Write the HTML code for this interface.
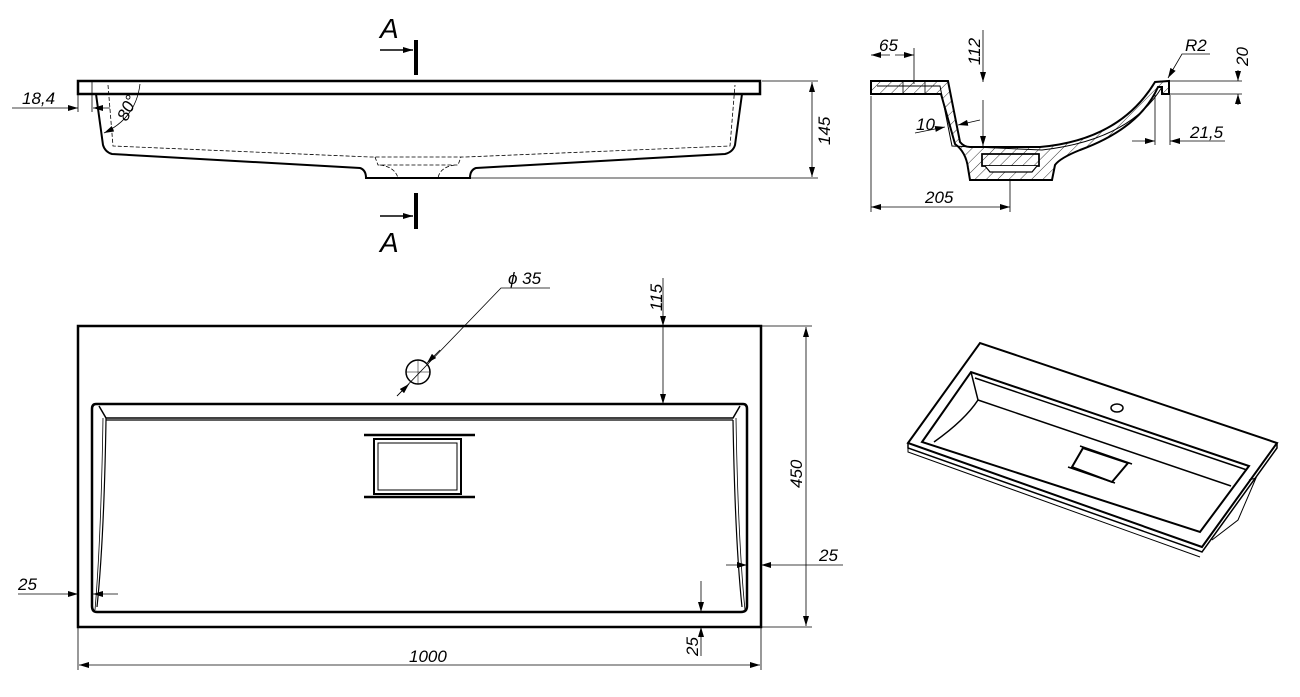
<!DOCTYPE html>
<html><head><meta charset="utf-8"><style>
html,body{margin:0;padding:0;background:#fff;}
svg{display:block}
text{font-family:"Liberation Sans",sans-serif;font-style:italic;fill:#000}
</style></head><body>
<svg width="1300" height="697" viewBox="0 0 1300 697" xmlns="http://www.w3.org/2000/svg">
<defs>
<marker id="a" viewBox="0 0 10 6" refX="10" refY="3" markerWidth="10" markerHeight="6" orient="auto-start-reverse" markerUnits="userSpaceOnUse"><path d="M0,0 L10,3 L0,6 z" fill="#000"/></marker>
<pattern id="h" width="8" height="8" patternUnits="userSpaceOnUse" patternTransform="rotate(45)"><line x1="0" y1="0" x2="0" y2="8" stroke="#000" stroke-width="0.8"/></pattern>
</defs>
<g fill="none" stroke="#000">
<!-- FRONT VIEW -->
<rect x="78" y="81" width="682" height="13" stroke-width="2.5"/>
<path d="M96,94 L103,145 Q105,152 112,154 L360,168 Q366,170 366,178 L470,178 Q470,170 476,168 L725,154 Q733,152 735,145 L742,94" stroke-width="2"/>
<path d="M108,85 L113,146 L370,157 L465,157 L730,146 L735,85" stroke-width="0.8" stroke-dasharray="4,2"/>
<path d="M375,157 L378,165 L458,165 L461,157 M380,165 Q395,167 398,178 M455,165 Q440,167 438,178" stroke-width="0.8" stroke-dasharray="4,2"/>
<path d="M92,80 L92,112 M78,94 L78,112" stroke-width="0.8"/>
<line x1="12" y1="108" x2="78" y2="108" stroke-width="0.8" marker-end="url(#a)"/>
<line x1="110" y1="108" x2="93" y2="108" stroke-width="0.8" marker-end="url(#a)"/>
<path d="M140,84 Q136,118 104,133" stroke-width="0.8" marker-end="url(#a)"/>
<line x1="416" y1="40" x2="416" y2="75" stroke-width="4"/>
<line x1="416" y1="193" x2="416" y2="229" stroke-width="4"/>
<line x1="380" y1="50" x2="413" y2="50" stroke-width="1.5" marker-end="url(#a)"/>
<line x1="380" y1="216" x2="413" y2="216" stroke-width="1.5" marker-end="url(#a)"/>
<path d="M762,81 L818,81 M470,178 L818,178" stroke-width="0.8"/>
<line x1="812" y1="130" x2="812" y2="82" stroke-width="0.8" marker-end="url(#a)"/>
<line x1="812" y1="130" x2="812" y2="177" stroke-width="0.8" marker-end="url(#a)"/>

<!-- SECTION VIEW -->
<path d="M871,81 L948,81 L960,142 Q964,147 970,147 L1040,147 Q1120,140 1155,82 L1169,81 L1169,94 L1162,94 L1162,87 L1158,87 Q1140,128 1080,150 Q1060,158 1055,165 L1052,180 L970,180 L968,168 Q966,152 955,144 L941,94 L877,94 L871,94 Z" fill="url(#h)" stroke-width="2"/>
<path d="M877,86 L940,86 L952,146 L1042,150 Q1130,140 1162,87" stroke-width="1"/>
<rect x="982" y="154" width="57" height="12" fill="#fff" stroke-width="1.5"/>
<rect x="982" y="154" width="57" height="12" fill="url(#h)" stroke-width="1.5"/>
<path d="M985,166 L990,172 L1032,172 L1037,166" stroke-width="1.2" fill="#fff"/>
<path d="M903,81 L903,94 M925,81 L925,94" stroke-width="0.8"/>
<path d="M871,96 L871,212 M1010,180 L1010,212 M914,48 L914,84" stroke-width="0.8"/>
<line x1="890" y1="55" x2="871" y2="55" stroke-width="0.8" marker-end="url(#a)"/>
<line x1="895" y1="55" x2="914" y2="55" stroke-width="0.8" marker-end="url(#a)"/>
<line x1="940" y1="207" x2="871" y2="207" stroke-width="0.8" marker-end="url(#a)"/>
<line x1="940" y1="207" x2="1010" y2="207" stroke-width="0.8" marker-end="url(#a)"/>
<line x1="983" y1="30" x2="983" y2="82" stroke-width="0.8" marker-end="url(#a)"/>
<line x1="983" y1="100" x2="983" y2="146" stroke-width="0.8" marker-end="url(#a)"/>
<line x1="915" y1="133" x2="945" y2="127" stroke-width="0.8" marker-end="url(#a)"/>
<line x1="980" y1="120" x2="958" y2="125" stroke-width="0.8" marker-end="url(#a)"/>
<path d="M1160,81 L1242,81 M1162,94 L1242,94 M1155,95 L1155,145 M1170,95 L1170,145" stroke-width="0.8"/>
<line x1="1238" y1="70" x2="1238" y2="81" stroke-width="0.8" marker-end="url(#a)"/>
<line x1="1238" y1="105" x2="1238" y2="94" stroke-width="0.8" marker-end="url(#a)"/>
<line x1="1132" y1="141" x2="1155" y2="141" stroke-width="0.8" marker-end="url(#a)"/>
<line x1="1225" y1="141" x2="1170" y2="141" stroke-width="0.8" marker-end="url(#a)"/>
<path d="M1210,54 L1182,54 L1168,78" stroke-width="0.8" marker-end="url(#a)"/>

<!-- PLAN VIEW -->
<rect x="78" y="326" width="683" height="301" stroke-width="2.5"/>
<path d="M96,404 L743,404 Q747,404 747,409 L747,606 Q747,612 741,612 L97,612 Q92,612 92,606 L92,409 Q92,404 96,404 Z" stroke-width="2.5"/>
<path d="M99,406 L106,418 L733,418 L740,406" stroke-width="1.5"/>
<path d="M106,418 L106,420 L733,420 M106,420 Q104,540 97,607 M733,420 Q735,540 742,607" stroke-width="1.2"/>
<path d="M103,418 Q101,540 95,610 M736,418 Q738,540 745,610" stroke-width="0.8"/>
<rect x="374" y="439" width="87" height="55" stroke-width="2"/>
<rect x="378" y="443" width="79" height="47" stroke-width="1"/>
<path d="M364,435 L475,435 M364,497 L475,497" stroke-width="2.5"/>
<circle cx="418" cy="372" r="12" stroke-width="1.5"/>
<path d="M406,372 L430,372 M418,360 L418,384" stroke-width="0.5"/>
<path d="M397,396 L501,288 L550,288" stroke-width="0.8"/>
<line x1="397" y1="396" x2="409" y2="384" stroke-width="0.8" marker-end="url(#a)"/>
<line x1="440" y1="350" x2="427" y2="363" stroke-width="0.8" marker-end="url(#a)"/>
<line x1="663" y1="278" x2="663" y2="326" stroke-width="0.8" marker-end="url(#a)"/>
<line x1="663" y1="326" x2="663" y2="404" stroke-width="0.8" marker-end="url(#a)"/>
<path d="M762,326 L812,326 M762,627 L812,627" stroke-width="0.8"/>
<line x1="806" y1="470" x2="806" y2="327" stroke-width="0.8" marker-end="url(#a)"/>
<line x1="806" y1="470" x2="806" y2="626" stroke-width="0.8" marker-end="url(#a)"/>
<path d="M78,628 L78,670 M761,628 L761,670" stroke-width="0.8"/>
<line x1="420" y1="665" x2="79" y2="665" stroke-width="0.8" marker-end="url(#a)"/>
<line x1="420" y1="665" x2="760" y2="665" stroke-width="0.8" marker-end="url(#a)"/>
<line x1="18" y1="594" x2="78" y2="594" stroke-width="0.8" marker-end="url(#a)"/>
<line x1="118" y1="594" x2="93" y2="594" stroke-width="0.8" marker-end="url(#a)"/>
<line x1="843" y1="565" x2="761" y2="565" stroke-width="0.8" marker-end="url(#a)"/>
<line x1="726" y1="565" x2="747" y2="565" stroke-width="0.8" marker-end="url(#a)"/>
<line x1="701" y1="581" x2="701" y2="612" stroke-width="0.8" marker-end="url(#a)"/>
<line x1="701" y1="656" x2="701" y2="627" stroke-width="0.8" marker-end="url(#a)"/>

<!-- ISOMETRIC -->
<path d="M908,443 L980,343 L1277,443 L1202,547 Z" stroke-width="2"/>
<path d="M908,443 L908,448 L1202,552 L1277,448 L1277,443" stroke-width="1.5"/>
<path d="M908,448 L908,452 L1200,557" stroke-width="1"/>
<path d="M922,442 L971,372 L1249,466 L1200,532 Z" stroke-width="2"/>
<path d="M975,378 L1247,470" stroke-width="1.5"/>
<path d="M978,400 L1231,486" stroke-width="1.5"/>
<path d="M971,372 L978,400 Q965,420 934,442" stroke-width="1.5"/>
<path d="M1083,448 L1128,463 L1112,482 L1072,467 Z" stroke-width="2"/>
<path d="M1080,446 L1132,464 M1068,467 L1115,483" stroke-width="1.5"/>
<ellipse cx="1117" cy="408" rx="6" ry="4" stroke-width="1.5"/>
<path d="M1249,480 L1256,478 L1238,520 L1212,540" stroke-width="1"/>
</g>
<g font-size="17">
<text x="22" y="104">18,4</text>
<text transform="translate(127,122) rotate(-65)">80°</text>
<text x="380" y="38" font-size="28">A</text>
<text x="380" y="252" font-size="28">A</text>
<text transform="translate(830,145) rotate(-90)">145</text>
<text x="879" y="51">65</text>
<text x="925" y="203">205</text>
<text transform="translate(980,65) rotate(-90)">112</text>
<text x="916" y="130">10</text>
<text x="1185" y="51">R2</text>
<text transform="translate(1248,66) rotate(-90)">20</text>
<text x="1190" y="138">21,5</text>
<text x="508" y="284">ϕ 35</text>
<text transform="translate(662,311) rotate(-90)">115</text>
<text transform="translate(802,488) rotate(-90)">450</text>
<text x="409" y="662">1000</text>
<text x="18" y="590">25</text>
<text x="819" y="561">25</text>
<text transform="translate(698,656) rotate(-90)">25</text>
</g>
</svg>
</body></html>
